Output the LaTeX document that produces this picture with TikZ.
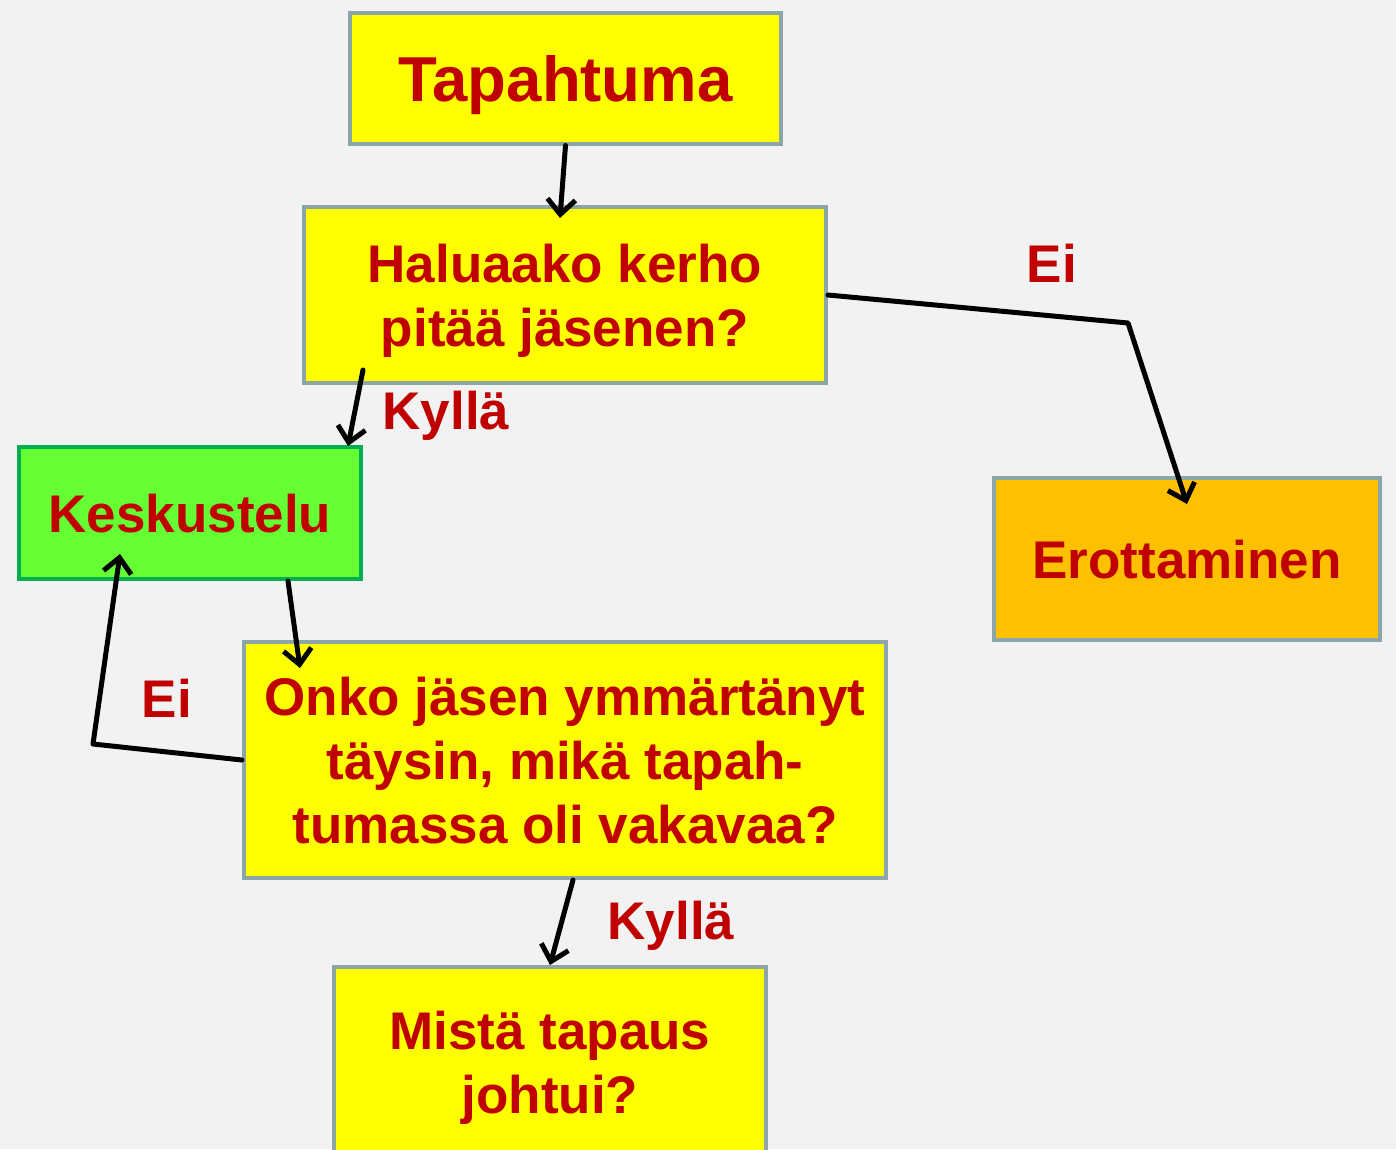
\documentclass[tikz,border=0pt]{standalone}
\usepackage{fontspec}
\setmainfont{Liberation Sans}
\usetikzlibrary{arrows.meta,calc}
\definecolor{bg}{HTML}{F2F2F2}
\definecolor{txtred}{HTML}{C00000}
\definecolor{boxgray}{HTML}{8CA5A8}
\definecolor{ylw}{HTML}{FFFF00}
\definecolor{grn}{HTML}{66FF33}
\definecolor{grnline}{HTML}{00B050}
\definecolor{orng}{HTML}{FFC000}
\tikzset{
  box/.style={draw=boxgray, line width=4pt, fill=ylw, inner sep=0pt, align=center,
    text=txtred, text depth=0pt, font=\fontsize{53}{64}\selectfont\bfseries},
  lbl/.style={text=txtred, text depth=0pt, font=\fontsize{53}{64}\selectfont\bfseries, inner sep=0pt},
  conn/.style={line width=5pt, black, line cap=round, line join=round,
    -{Straight Barb[length=15pt,width=28pt]}},
}
\begin{document}
\begin{tikzpicture}[x=1pt,y=-1pt]
\fill[bg] (0,0) rectangle (1396,1149);
\clip (0,0) rectangle (1396,1149);
\useasboundingbox (0,0) rectangle (1396,1149);

\node[box, minimum width=431pt, minimum height=131pt,
  font=\fontsize{63.5}{70}\selectfont\bfseries] (tap) at (565.5,78) {Tapahtuma};
\node[box, minimum width=522pt, minimum height=176pt] (hal) at (565,295)
  {Haluaako kerho\\pitää jäsenen?};
\node[box, fill=grn, draw=grnline, minimum width=342pt, minimum height=132pt] (kes) at (190,513) {Keskustelu};
\node[box, fill=orng, minimum width=386pt, minimum height=162pt] (ero) at (1187,559) {Erottaminen};
\node[box, minimum width=642pt, minimum height=236pt] (onk) at (565,760)
  {Onko jäsen ymmärtänyt\\täysin, mikä tapah-\\tumassa oli vakavaa?};
\node[box, minimum width=432pt, minimum height=190pt] (mis) at (550,1062)
  {Mistä tapaus\\johtui?};

\node[lbl] (ei1) at (1052,263) {Ei};
\node[lbl] (ky1) at (446,410) {Kyllä};
\node[lbl] (ei2) at (167,698) {Ei};
\node[lbl] (ky2) at (671,920) {Kyllä};

\coordinate (b1) at (1128,323);
\coordinate (b2) at (93,744);

\draw[conn] (tap.south) -- ([xshift=-5pt,yshift=-13pt]hal.north);
\draw[conn] ([xshift=61pt,yshift=15pt]hal.south west) -- ([xshift=-15pt,yshift=-1pt]kes.north east);
\draw[conn] (hal.east) -- (b1) -- ([yshift=-28pt]ero.north);
\draw[conn] ([xshift=98pt]kes.south) -- ([xshift=58pt,yshift=-28pt]onk.north west);
\draw[conn] (onk.west) -- (b2) -- ([xshift=-70pt,yshift=27pt]kes.south);
\draw[conn] ([xshift=8pt]onk.south) -- (mis.north);
\end{tikzpicture}
\end{document}
